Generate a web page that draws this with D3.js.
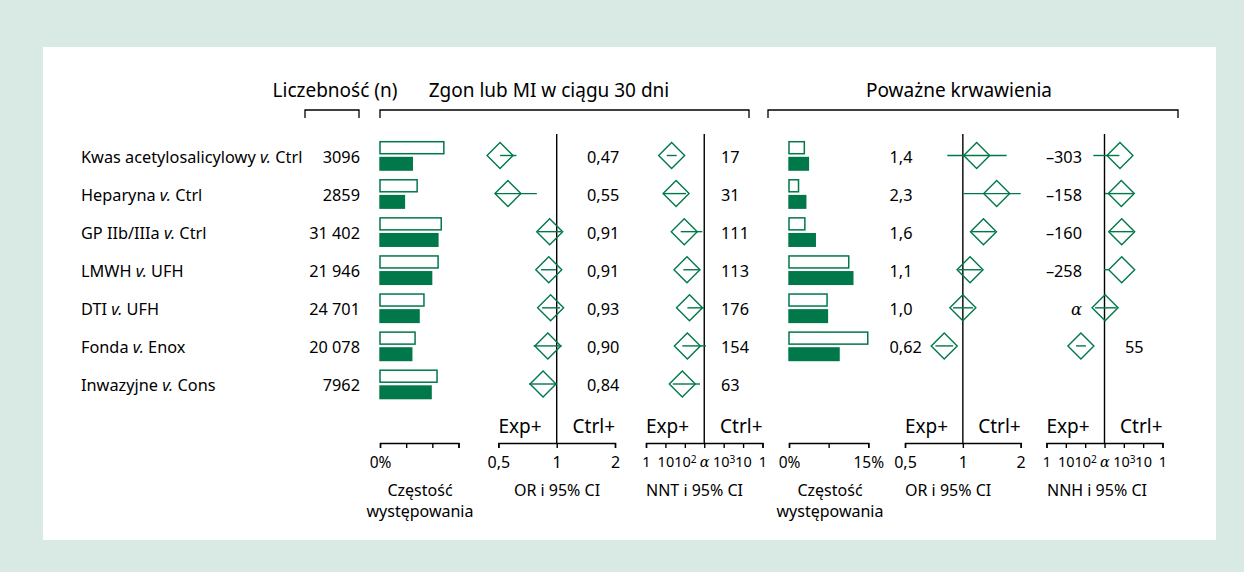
<!DOCTYPE html>
<html>
<head>
<meta charset="utf-8">
<script src="https://cdn.jsdelivr.net/npm/d3@7"></script>
<style>
    body { margin: 0; }
    svg { display: block; font-family: "Noto Sans", sans-serif; }
</style>
</head>
<body>
<svg width="1244" height="572"></svg>
<script>
// rows
const rowNames = ['Kwas acetylosalicylowy', 'Heparyna', 'GP IIb/IIIa', 'LMWH', 'DTI', 'Fonda', 'Inwazyjne'];
const comparators = ['Ctrl', 'Ctrl', 'Ctrl', 'UFH', 'UFH', 'Enox', 'Cons'];
const nLabels = ['3096', '2859', '31 402', '21 946', '24 701', '20 078', '7962'];

// zgon lub MI w ciagu 30 dni
const deathCtrl = [12.2, 7.1, 11.7, 11.1, 8.4, 6.7, 10.9];
const deathExp = [6.3, 4.8, 11.2, 10.0, 7.6, 6.2, 9.9];
const deathOR = [0.51, 0.56, 0.92, 0.91, 0.93, 0.90, 0.85];
const deathORLow = [0.51, 0.48, 0.80, 0.83, 0.84, 0.76, 0.72];
const deathORHigh = [0.62, 0.79, 1.06, 0.99, 1.04, 1.06, 1.0];
const deathORText = ['0,47', '0,55', '0,91', '0,91', '0,93', '0,90', '0,84'];
const nntPos = [-1.68, -1.45, -1.03, -0.89, -0.76, -0.87, -1.13];
const nntLow = [-1.93, -2.11, -1.21, -1.08, -0.87, -1.13, -1.62];
const nntHigh = [-1.42, -0.94, -0.10, -0.22, -0.01, 0.09, -0.22];
const nntText = ['17', '31', '111', '113', '176', '154', '63'];

// powazne krwawienia (no data for the last row)
const bleedCtrl = [2.9, 1.8, 3.0, 11.3, 7.2, 14.9];
const bleedExp = [3.8, 3.3, 5.1, 12.2, 7.4, 9.6];
const bleedOR = [1.18, 1.50, 1.28, 1.09, 1.0, 0.80];
const bleedORLow = [0.83, 1.01, 1.11, 0.95, 0.89, 0.72];
const bleedORHigh = [1.69, 2.0, 1.47, 1.25, 1.13, 0.89];
const bleedORText = ['1,4', '2,3', '1,6', '1,1', '1,0', '0,62'];
const nnhPos = [0.80, 0.87, 0.89, 0.89, 0.03, -1.22];
const nnhLow = [-0.58, 0.03, 0.28, -0.03, -0.49, -1.47];
const nnhHigh = [0.77, 1.49, 1.49, 0.20, 0.63, -0.96];
const nnhText = ['\u2013303', '\u2013158', '\u2013160', '\u2013258', '\u03b1', '55'];

// axis ticks
const freqTicksDeath = [0, 5, 10, 15];
const freqTicksBleed = [0, 7.5, 15];
const orTicks = [0.5, 1, 2];
const orTickLabels = ['0,5', '1', '2'];
const nnTicks = [-3, -2, -1, 0, 1, 2, 3];
const nnTickLabels = ['1', '10', '10^2', '\u03b1', '10^3', '10', '1'];

const green = '#00784a';
const svg = d3.select('svg');

svg.append('rect').attr('width', 1244).attr('height', 572).attr('fill', '#d9e9e3');
svg.append('rect').attr('x', 43).attr('y', 47).attr('width', 1173).attr('height', 493).attr('fill', '#fff');

const y = d3.scaleLinear().domain([0, rowNames.length - 1]).range([155.5, 384]);
const axisY = 443;
const lineTop = 134;

const xDeathFreq = d3.scaleLinear().domain([0, 15]).range([380, 458.5]);
const xDeathOR = d3.scaleLog().base(2).domain([0.5, 2]).range([498.4, 615]);
const xNNT = d3.scaleLinear().domain([-3, 3]).range([646, 762.5]);
const xBleedFreq = d3.scaleLinear().domain([0, 15]).range([789, 868.3]);
const xBleedOR = d3.scaleLog().base(2).domain([0.5, 2]).range([905, 1020.7]);
const xNNH = d3.scaleLinear().domain([-3, 3]).range([1046.5, 1162.5]);

// headers
function header(text, cx, x0, x1) {
    svg.append('text')
        .attr('x', cx)
        .attr('y', 97)
        .attr('text-anchor', 'middle')
        .style('font-size', '19px')
        .text(text);
    svg.append('path')
        .attr('d', `M${x0},118V110H${x1}V118`)
        .attr('fill', 'none')
        .attr('stroke', '#000')
        .attr('stroke-width', 1.3);
}
header('Liczebno\u015b\u0107 (n)', 335, 305, 359);
header('Zgon lub MI w ci\u0105gu 30 dni', 549, 380, 749);
header('Powa\u017cne krwawienia', 959, 768, 1178);

// row labels
let labels = svg.append('g').style('font-size', '16.3px');
rowNames.forEach(function (name, i) {
    let t = labels.append('text')
        .attr('x', 81)
        .attr('y', y(i) + 7);
    t.append('tspan').text(name + ' ');
    t.append('tspan').style('font-style', 'italic').text('v.');
    t.append('tspan').text(' ' + comparators[i]);
});
labels.selectAll('.n')
    .data(nLabels)
    .enter()
    .append('text')
    .attr('x', 360)
    .attr('y', (d, i) => y(i) + 7)
    .attr('text-anchor', 'end')
    .text(d => d);

function bars(scale, ctrl, exp) {
    let g = svg.append('g');
    g.selectAll('.ctrl')
        .data(ctrl)
        .enter()
        .append('rect')
        .attr('x', scale(0))
        .attr('y', (d, i) => y(i) - 13.8)
        .attr('width', d => scale(d) - scale(0))
        .attr('height', 12)
        .attr('fill', '#fff')
        .attr('stroke', green)
        .attr('stroke-width', 1.5);
    g.selectAll('.exp')
        .data(exp)
        .enter()
        .append('rect')
        .attr('x', scale(0) - 0.7)
        .attr('y', (d, i) => y(i) + 1.3)
        .attr('width', d => scale(d) - scale(0) + 0.7)
        .attr('height', 14)
        .attr('fill', green);
}

function refLine(x) {
    svg.append('line')
        .attr('x1', x).attr('x2', x)
        .attr('y1', lineTop).attr('y2', axisY)
        .attr('stroke', '#000')
        .attr('stroke-width', 1.4);
}

function diamonds(scale, pos, low, high) {
    let g = svg.append('g')
        .attr('fill', 'none')
        .attr('stroke', green)
        .attr('stroke-width', 1.4);
    g.selectAll('line')
        .data(pos)
        .enter()
        .append('line')
        .attr('x1', (d, i) => scale(low[i]))
        .attr('x2', (d, i) => scale(high[i]))
        .attr('y1', (d, i) => y(i))
        .attr('y2', (d, i) => y(i));
    g.selectAll('path')
        .data(pos)
        .enter()
        .append('path')
        .attr('d', function (d, i) {
            let cx = scale(d), cy = y(i), r = 13;
            return `M${cx - r},${cy}L${cx},${cy - r}L${cx + r},${cy}L${cx},${cy + r}Z`;
        });
}

function values(x, texts, anchor) {
    svg.append('g')
        .selectAll('text')
        .data(texts)
        .enter()
        .append('text')
        .attr('x', x)
        .attr('y', (d, i) => y(i) + 7)
        .attr('text-anchor', anchor)
        .style('font-size', '16.3px')
        .text(d => d);
}

function axis(scale, ticks, tickLabels, size) {
    let g = svg.append('g')
        .attr('transform', `translate(0, ${axisY})`)
        .call(d3.axisBottom(scale)
            .tickValues(ticks)
            .tickSize(5)
            .tickSizeOuter(5)
            .tickPadding(9)
            .tickFormat(() => ''));
    g.selectAll('path, line').attr('stroke-width', 1.4);
    g.selectAll('text')
        .style('font-family', '"Noto Sans", sans-serif')
        .style('font-size', size + 'px')
        .attr('fill', '#000')
        .each(function (d) {
            let label = tickLabels[ticks.indexOf(d)];
            let t = d3.select(this);
            if (label === '\u03b1') {
                t.style('font-family', '"DejaVu Serif", serif')
                    .style('font-style', 'italic')
                    .text(label);
            } else if (label.indexOf('^') > 0) {
                let parts = label.split('^');
                t.append('tspan').text(parts[0]);
                t.append('tspan')
                    .attr('dy', '-0.45em')
                    .style('font-size', (size * 0.7) + 'px')
                    .text(parts[1]);
            } else {
                t.text(label);
            }
        });
    return g;
}

function sides(scale) {
    let r = scale.range();
    svg.append('text').attr('x', r[0]).attr('y', 433)
        .style('font-size', '19px').text('Exp+');
    svg.append('text').attr('x', r[1]).attr('y', 433)
        .attr('text-anchor', 'end')
        .style('font-size', '19px').text('Ctrl+');
}

function title(lines, x, anchor) {
    lines.forEach(function (l, i) {
        svg.append('text')
            .attr('x', x)
            .attr('y', 496 + i * 21)
            .attr('text-anchor', anchor)
            .style('font-size', '16px')
            .text(l);
    });
}

// zgon / MI
bars(xDeathFreq, deathCtrl, deathExp);
refLine(xDeathOR(1));
diamonds(xDeathOR, deathOR, deathORLow, deathORHigh);
values(587, deathORText, 'start');
refLine(xNNT(0));
diamonds(xNNT, nntPos, nntLow, nntHigh);
values(721, nntText, 'start');

// krwawienia
bars(xBleedFreq, bleedCtrl, bleedExp);
refLine(xBleedOR(1));
diamonds(xBleedOR, bleedOR, bleedORLow, bleedORHigh);
values(889.5, bleedORText, 'start');
refLine(xNNH(0));
diamonds(xNNH, nnhPos, nnhLow, nnhHigh);
svg.append('g')
    .selectAll('text')
    .data(nnhText)
    .enter()
    .append('text')
    .attr('x', (d, i) => nnhPos[i] < -0.5 ? 1125 : 1082)
    .attr('y', (d, i) => y(i) + 7)
    .attr('text-anchor', (d, i) => nnhPos[i] < -0.5 ? 'start' : 'end')
    .style('font-size', '16.3px')
    .style('font-family', d => d === '\u03b1' ? '"DejaVu Serif", serif' : null)
    .style('font-style', d => d === '\u03b1' ? 'italic' : null)
    .text(d => d);

// axes
axis(xDeathFreq, freqTicksDeath, ['0%', '', '', ''], 15.5);
axis(xDeathOR, orTicks, orTickLabels, 16);
axis(xNNT, nnTicks, nnTickLabels, 14.5);
axis(xBleedFreq, freqTicksBleed, ['0%', '', '15%'], 15.5);
axis(xBleedOR, orTicks, orTickLabels, 16);
axis(xNNH, nnTicks, nnTickLabels, 14.5);

sides(xDeathOR);
sides(xNNT);
sides(xBleedOR);
sides(xNNH);

title(['Cz\u0119sto\u015b\u0107', 'wyst\u0119powania'], 420, 'middle');
title(['OR i 95% CI'], 557, 'middle');
title(['NNT i 95% CI'], 646, 'start');
title(['Cz\u0119sto\u015b\u0107', 'wyst\u0119powania'], 830, 'middle');
title(['OR i 95% CI'], 905, 'start');
title(['NNH i 95% CI'], 1047, 'start');
</script>
</body>
</html>
